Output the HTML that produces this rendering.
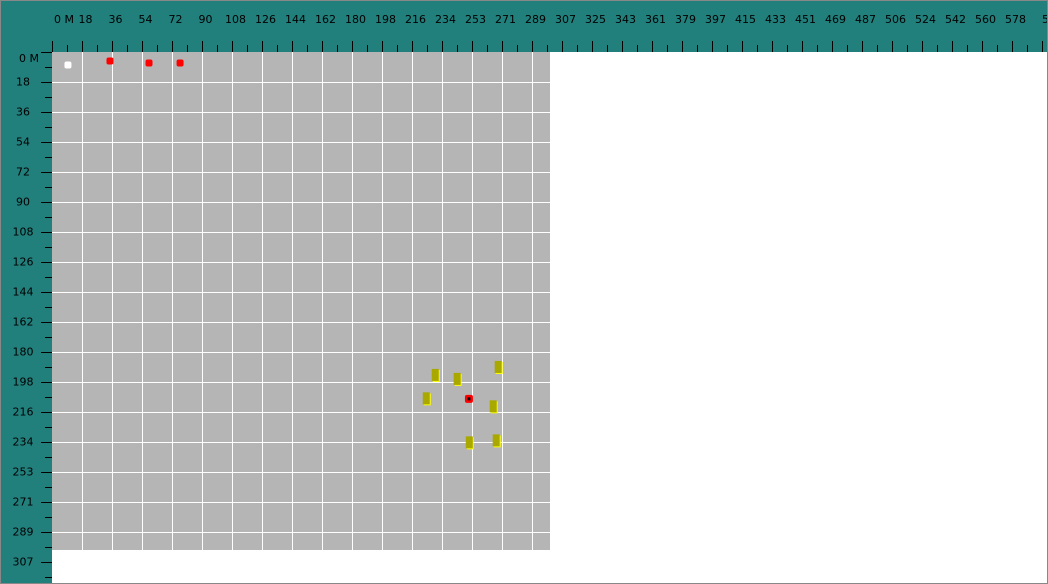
<!DOCTYPE html>
<html><head><meta charset="utf-8"><style>
body{margin:0;width:1048px;height:584px;overflow:hidden;background:#fff;font-family:"DejaVu Sans","Liberation Sans",sans-serif}
svg{display:block}
</style></head><body>
<svg id="c" width="1048" height="584">
<rect x="0" y="0" width="1048" height="584" fill="#fff"/>
<rect x="0" y="0" width="1048" height="52" fill="#217f7c"/>
<rect x="0" y="0" width="52" height="584" fill="#217f7c"/>
<rect x="52" y="52" width="498" height="498" fill="#b5b5b5"/>
<g id="grid"></g><g id="ticks"></g><g id="marks"></g>
<rect x="0.5" y="0.5" width="1047" height="583" fill="none" stroke="#888" stroke-width="1"/>
</svg>
<script>
const xTickLabels=["0 M","18","36","54","72","90","108","126","144","162","180","198","216","234","253","271","289","307","325","343","361","379","397","415","433","451","469","487","506","524","542","560","578","5"];
const yTickLabels=["0 M","18","36","54","72","90","108","126","144","162","180","198","216","234","253","271","289","307"];
// map units (meters)
const startX=[9.6], startY=[7.8];
const waypointX=[34.9,58.4,77.1], waypointY=[5.4,6.6,6.6];
const objectX=[230.7,243.9,268.6,225.3,265.6,251.2,267.4];
const objectY=[194.4,196.8,189.6,208.5,213.3,235.0,233.8];
const targetX=[251.0], targetY=[208.8];
const NS="http://www.w3.org/2000/svg";
const ox=52, oy=52, pxPerUnit=30/18.06;
const sx=v=>ox+v*pxPerUnit, sy=v=>oy+v*pxPerUnit;
function mk(t,a,p){const e=document.createElementNS(NS,t);for(const k in a)e.setAttribute(k,a[k]);p.appendChild(e);return e;}
const grid=document.getElementById('grid'),ticks=document.getElementById('ticks'),marks=document.getElementById('marks');
for(let k=1;k<=16;k++){
 const g1=mk('line',{x1:52+30*k+0.5,x2:52+30*k+0.5,y1:52,y2:550,stroke:'#fff'},grid);
 
 
 const g2=mk('line',{y1:52+30*k+0.5,y2:52+30*k+0.5,x1:52,x2:550,stroke:'#fff'},grid);
 
 
}
xTickLabels.forEach((l,i)=>{
 const x=52+30*i+0.5;
 mk('line',{x1:x,x2:x,y1:41,y2:52,stroke:'#000'},ticks);
 mk('line',{x1:x+15,x2:x+15,y1:45,y2:52,stroke:'#000'},ticks);
 const t=mk('text',{x:i==0?54:x+3,y:23,'font-size':11,fill:'#000','text-anchor':i==0?'start':'middle'},ticks);
 t.textContent=l;
 
 
});
yTickLabels.forEach((l,i)=>{
 const y=52+30*i+0.5;
 mk('line',{y1:y,y2:y,x1:41,x2:52,stroke:'#000'},ticks);
 mk('line',{y1:y+15,y2:y+15,x1:45,x2:52,stroke:'#000'},ticks);
 const t=mk('text',{x:i==0?29:23,y:i==0?62:y+3,'font-size':11,fill:'#000','text-anchor':'middle'},ticks);
 t.textContent=l;
 
 
});
startX.forEach((v,i)=>{
 const e=mk('rect',{x:sx(v)-3.5,y:sy(startY[i])-3.5,width:7,height:7,rx:2,fill:'#fff'},marks);
 
 
});
waypointX.forEach((v,i)=>{
 const e=mk('rect',{x:sx(v)-3.5,y:sy(waypointY[i])-3.5,width:7,height:7,rx:2,fill:'#f00'},marks);
 
 
});
objectX.forEach((v,i)=>{
 const x=sx(v)-3.5,y=sy(objectY[i])-6;
 const s=mk('rect',{x:x+1,y:y+1,width:7,height:12,fill:'#ffff00'},marks);
 
 
 const e=mk('rect',{x:x,y:y,width:7,height:12,fill:'#a8a800'},marks);
 
 
});
targetX.forEach((v,i)=>{
 const e=mk('rect',{x:sx(v)-4,y:sy(targetY[i])-4,width:8,height:8,rx:2,fill:'#f00'},marks);
 
 
 const d=mk('rect',{x:sx(v)-1.5,y:sy(targetY[i])-1.5,width:3,height:3,fill:'#000'},marks);
 
 
});
</script>
</body></html>
